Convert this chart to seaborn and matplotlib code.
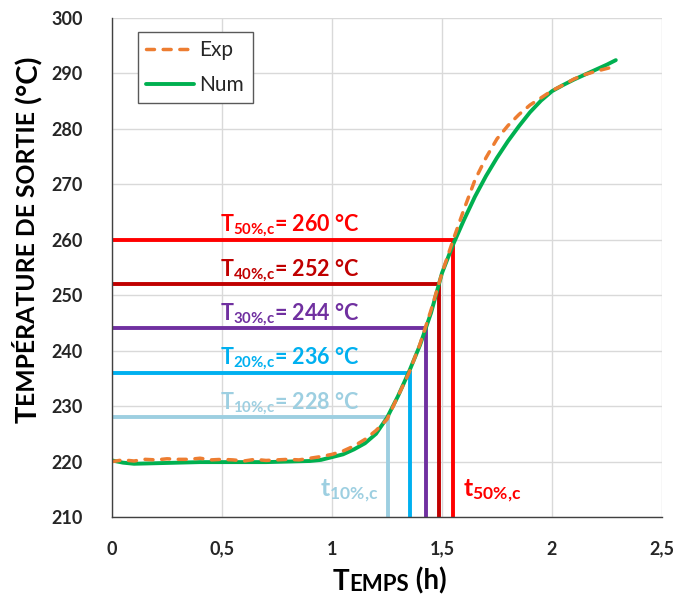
import numpy as np
import pandas as pd
import matplotlib
matplotlib.use("Agg")
import matplotlib.pyplot as plt
import seaborn as sns
from matplotlib.ticker import FixedLocator, MultipleLocator
from matplotlib.transforms import Bbox

# ---------------- data ----------------
exp_t = [0.00, 0.05, 0.10, 0.15, 0.20, 0.25, 0.30, 0.35, 0.40, 0.45, 0.50, 0.55,
         0.60, 0.65, 0.70, 0.75, 0.80, 0.85, 0.90, 0.95, 1.00, 1.05, 1.10, 1.15,
         1.20, 1.25, 1.30, 1.35, 1.40, 1.45, 1.50, 1.55, 1.60, 1.65, 1.70, 1.75,
         1.80, 1.85, 1.90, 1.95, 2.00, 2.05, 2.10, 2.15, 2.20, 2.25, 2.29]
exp_T = [220.0, 220.3, 220.1, 220.4, 220.3, 220.5, 220.4, 220.4, 220.6, 220.3, 220.4, 220.3,
         220.1, 220.4, 220.2, 220.3, 220.4, 220.3, 220.6, 220.9, 221.3, 221.9, 222.8, 224.0,
         225.6, 227.6, 231.8, 236.0, 241.2, 247.3, 254.0, 259.9, 265.5, 270.8, 274.8, 278.2,
         280.6, 282.6, 284.3, 285.6, 286.9, 287.9, 289.0, 289.8, 290.4, 290.9, 291.3]

num_t = [0.00, 0.05, 0.10, 0.20, 0.30, 0.40, 0.50, 0.60, 0.70, 0.80, 0.90, 0.95,
         1.00, 1.05, 1.10, 1.15, 1.20, 1.25, 1.30, 1.35, 1.40, 1.45, 1.50, 1.55,
         1.60, 1.65, 1.70, 1.75, 1.80, 1.85, 1.90, 1.95, 2.00, 2.05, 2.10, 2.15,
         2.20, 2.25, 2.29]
num_T = [220.2, 219.8, 219.6, 219.7, 219.8, 219.9, 219.9, 219.9, 219.9, 220.0, 220.1, 220.3,
         220.8, 221.3, 222.2, 223.3, 225.0, 227.9, 231.8, 236.2, 241.0, 246.8, 254.0, 259.1,
         263.6, 267.8, 271.5, 274.8, 277.8, 280.5, 283.0, 285.1, 286.8, 287.9, 288.9, 289.8,
         290.7, 291.6, 292.4]

# conversion thresholds
thr_names = ["10", "20", "30", "40", "50"]
thr_T = [228, 236, 244, 252, 260]
thr_t = [1.256, 1.355, 1.427, 1.485, 1.551]
thr_colors = ["#9DCFE1", "#00B0F0", "#7030A0", "#C00000", "#FF0000"]

x_ticks = [0, 0.5, 1, 1.5, 2, 2.5]
x_ticklabels = ["0", "0,5", "1", "1,5", "2", "2,5"]
y_ticks = [210, 220, 230, 240, 250, 260, 270, 280, 290, 300]

# ---------------- style ----------------
sns.set_style("white")
plt.rcParams["font.family"] = ["Lato", "DejaVu Sans"]
plt.rcParams["mathtext.fontset"] = "custom"
plt.rcParams["mathtext.rm"] = "Lato"
plt.rcParams["mathtext.bf"] = "Lato:bold"
plt.rcParams["mathtext.it"] = "Lato:italic"

W, H = 681, 601
fig = plt.figure(figsize=(W / 100, H / 100), dpi=100)
ax = fig.add_axes([112 / W, 1 - 517 / H, 550 / W, 499 / H])

# threshold L-shaped lines
for T, t, c in zip(thr_T, thr_t, thr_colors):
    ax.plot([0, t, t], [T, T, 210], color=c, lw=2.8, solid_joinstyle="miter",
            solid_capstyle="butt", zorder=2)

df_exp = pd.DataFrame({"t": exp_t, "T": exp_T})
df_num = pd.DataFrame({"t": num_t, "T": num_T})

sns.lineplot(data=df_exp, x="t", y="T", ax=ax, color="#ED7D31", lw=2.5,
             estimator=None, sort=False, label="Exp", zorder=4)
exp_line = ax.lines[-1]
exp_line.set_dashes([2.3, 2.5])
exp_line.set_dash_capstyle("round")
sns.lineplot(data=df_num, x="t", y="T", ax=ax, color="#00B050", lw=2.8,
             estimator=None, sort=False, label="Num", zorder=3)
num_line = ax.lines[-1]

# axes
ax.set_xlim(0, 2.5)
ax.set_ylim(210, 300)
ax.xaxis.set_major_locator(FixedLocator(x_ticks))
ax.set_xticklabels(x_ticklabels)
ax.yaxis.set_major_locator(FixedLocator(y_ticks))
ax.xaxis.set_minor_locator(MultipleLocator(0.1))
ax.yaxis.set_minor_locator(MultipleLocator(2))
ax.set_xlabel("")
ax.set_ylabel("")
ax.grid(True, which="major", color="#D9D9D9", lw=1.0)
ax.set_axisbelow(True)
for s in ["top", "right"]:
    ax.spines[s].set_visible(False)
for s in ["left", "bottom"]:
    ax.spines[s].set_color("#404040")
    ax.spines[s].set_linewidth(1.0)
    ax.spines[s].set_zorder(5)
ax.tick_params(axis="both", which="major", direction="in", length=7, width=1,
               color="#404040", labelsize=13)
ax.tick_params(axis="both", which="minor", direction="in", length=4.5, width=1,
               color="#404040")
ax.tick_params(axis="y", which="major", pad=21)
ax.tick_params(axis="x", which="major", pad=17)
for lab in ax.get_xticklabels() + ax.get_yticklabels():
    lab.set_fontweight("bold")

# legend
ax.legend(handles=[exp_line, num_line], labels=["Exp", "Num"], loc="upper left",
          bbox_to_anchor=(26 / 550, 1 - 14 / 499), borderaxespad=0, frameon=True,
          fancybox=False, edgecolor="#595959", framealpha=1, fontsize=15,
          handlelength=2.3, handletextpad=0.25, labelspacing=0.7, borderpad=0.4)
ax.get_legend().get_frame().set_linewidth(1.0)

# threshold labels
for name, T, c in zip(thr_names, thr_T, thr_colors):
    ax.text(0.49, T + 1.6,
            r"$\mathbf{T}_{\mathbf{" + name + r"\%{,}c}}$" + f"= {T} °C",
            color=c, fontsize=15.5, fontweight="bold", ha="left", va="baseline",
            zorder=6)

ax.text(1.209, 213.6, r"$\mathbf{t}_{\mathbf{" + thr_names[0] + r"\%{,}c}}$",
        color=thr_colors[0], fontsize=18, ha="right", va="baseline", zorder=6)
ax.text(1.595, 213.6, r"$\mathbf{t}_{\mathbf{" + thr_names[-1] + r"\%{,}c}}$",
        color=thr_colors[-1], fontsize=18, ha="left", va="baseline", zorder=6)


# small-caps axis titles
def chain_text(pieces, vertical, center_px):
    rot = 90 if vertical else 0
    first = fig.text(0.5, 0.5, pieces[0][0], fontsize=pieces[0][1], rotation=rot,
                     ha="left", va="bottom", fontweight="bold", color="black")
    texts = [first]
    prev = first
    for s, fs in pieces[1:]:
        a = ax.annotate(s, xy=(0, 1) if vertical else (1, 0), xycoords=prev,
                        ha="left", va="bottom", rotation=rot, fontsize=fs,
                        fontweight="bold", color="black", annotation_clip=False)
        texts.append(a)
        prev = a
    fig.canvas.draw()
    bb = Bbox.union([t.get_window_extent() for t in texts])
    cx, cy = (bb.x0 + bb.x1) / 2, (bb.y0 + bb.y1) / 2
    dx, dy = center_px[0] - cx, center_px[1] - cy
    first.set_position((0.5 + dx / W, 0.5 + dy / H))


chain_text([("T", 21), ("EMPÉRATURE DE SORTIE", 17.8), (" (°C)", 21)],
           True, (29.5, H - 240))
chain_text([("T", 20), ("EMPS", 16), (" (h)", 20)], False, (390, H - 581))

fig.savefig("out.png", dpi=100)
